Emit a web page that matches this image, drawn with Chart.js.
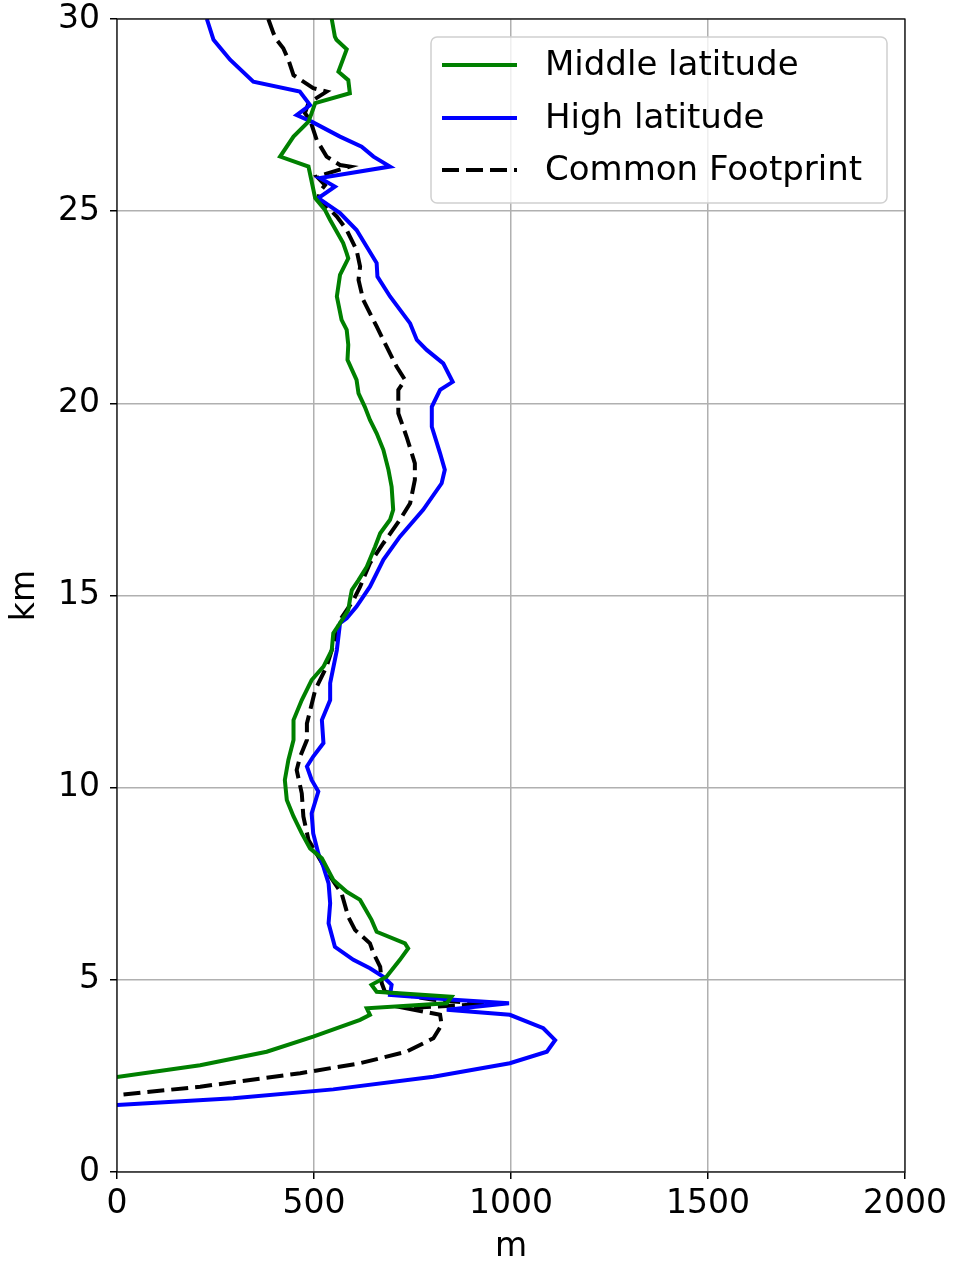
<!DOCTYPE html>
<html>
<head>
<meta charset="utf-8">
<script src="https://cdn.jsdelivr.net/npm/chart.js@4.4.0/dist/chart.umd.min.js"></script>
<style>
  html, body { margin: 0; padding: 0; background: #fff; }
  #wrap { width: 955px; height: 1264px; }
</style>
</head>
<body>
<div id="wrap"><canvas id="profile" width="955" height="1264"></canvas></div>
<script>
// heights in km, values in m (top to bottom)
const midKm = [30.0, 29.54, 29.46, 29.21, 28.63, 28.41, 28.07, 27.81, 27.55, 27.33, 26.94, 26.42, 26.16, 25.34, 25.03, 24.77, 24.17, 23.9, 23.77, 23.34, 22.78, 22.17, 21.91, 21.52, 21.13, 20.61, 20.26, 19.91, 19.57, 19.22, 18.79, 18.27, 17.83, 17.23, 16.97, 16.62, 16.27, 15.75, 15.40, 15.14, 14.88, 14.62, 14.28, 14.02, 13.58, 13.15, 12.80, 12.28, 11.76, 11.24, 10.72, 10.20, 9.68, 9.25, 8.81, 8.42, 8.16, 7.60, 7.29, 7.08, 6.56, 6.25, 5.95, 5.82, 5.52, 5.08, 4.87, 4.69, 4.56, 4.39, 4.26, 4.09, 3.96, 3.52, 3.13, 2.78, 2.47];
const midM = [545, 553, 557, 583, 562, 587, 591, 503, 494, 486, 448, 414, 486, 503, 528, 541, 574, 583, 587, 566, 558, 570, 583, 587, 585, 608, 613, 629, 642, 659, 676, 689, 697, 701, 693, 668, 655, 634, 613, 596, 591, 587, 566, 549, 545, 524, 494, 469, 448, 448, 435, 426, 431, 448, 469, 490, 520, 549, 583, 617, 646, 659, 731, 739, 718, 684, 646, 659, 849, 837, 634, 642, 617, 498, 380, 211, 0];

const highKm = [30.0, 29.46, 28.94, 28.37, 28.11, 27.76, 27.50, 27.33, 26.94, 26.68, 26.42, 26.16, 25.86, 25.64, 25.34, 24.95, 24.51, 23.65, 23.30, 22.78, 22.08, 21.65, 21.39, 21.04, 20.56, 20.35, 19.91, 19.39, 18.70, 18.27, 17.92, 17.23, 16.53, 15.93, 15.23, 14.71, 14.41, 14.28, 13.58, 12.72, 12.28, 11.76, 11.16, 10.81, 10.55, 10.20, 9.90, 9.33, 8.81, 8.29, 7.94, 7.51, 6.99, 6.47, 5.86, 5.52, 5.30, 5.08, 4.87, 4.61, 4.48, 4.39, 4.22, 4.09, 3.74, 3.43, 3.13, 2.83, 2.48, 2.15, 1.92, 1.74];
const highM = [228, 245, 287, 346, 464, 490, 456, 494, 566, 621, 651, 693, 515, 553, 511, 566, 608, 659, 661, 693, 744, 761, 786, 828, 852, 820, 799, 799, 820, 832, 824, 777, 718, 676, 642, 608, 583, 566, 558, 541, 541, 520, 524, 498, 482, 494, 511, 494, 498, 511, 524, 537, 541, 537, 553, 600, 642, 676, 697, 693, 854, 995, 837, 997, 1082, 1112, 1091, 997, 803, 549, 295, 0];

const commonKm = [30.0, 29.63, 29.46, 29.24, 28.94, 28.54, 28.37, 28.20, 28.11, 27.81, 27.55, 27.37, 26.85, 26.42, 26.20, 26.16, 25.90, 25.68, 25.51, 25.34, 24.86, 24.51, 23.99, 23.56, 23.21, 22.69, 22.00, 21.48, 20.95, 20.61, 20.35, 19.74, 19.13, 18.44, 18.01, 17.40, 16.97, 16.36, 15.84, 15.23, 14.88, 14.36, 13.84, 13.15, 12.54, 11.67, 11.24, 10.81, 10.46, 9.85, 9.25, 8.64, 8.20, 7.69, 7.25, 6.64, 6.30, 5.95, 5.69, 5.34, 4.91, 4.69, 4.48, 4.37, 4.32, 4.26, 4.09, 3.83, 3.48, 3.13, 2.83, 2.57, 2.22, 2.00];
const commonM = [384, 397, 405, 422, 435, 448, 473, 498, 532, 486, 477, 490, 507, 532, 566, 591, 507, 528, 515, 511, 558, 583, 608, 617, 613, 625, 659, 684, 710, 731, 714, 714, 735, 756, 756, 744, 718, 676, 642, 617, 600, 566, 553, 532, 503, 482, 482, 465, 456, 469, 473, 486, 511, 541, 570, 587, 604, 642, 651, 668, 672, 680, 803, 934, 837, 735, 820, 824, 803, 735, 617, 465, 211, 0];

const seriesNames = ['Middle latitude', 'High latitude', 'Common Footprint'];

const FONT = "'DejaVu Sans', sans-serif";

function pairs(xs, ys) {
  return xs.map((v, i) => ({ x: v, y: ys[i] }));
}

// matplotlib style box legend in the upper right
const boxLegend = {
  id: 'boxLegend',
  afterDraw(chart) {
    const ctx = chart.ctx;
    ctx.save();
    const x0 = 431, y0 = 37, w = 456, h = 166, r = 6;
    ctx.beginPath();
    ctx.roundRect(x0, y0, w, h, r);
    ctx.fillStyle = 'rgba(255,255,255,0.8)';
    ctx.fill();
    ctx.strokeStyle = '#d0d0d0';
    ctx.lineWidth = 1.5;
    ctx.stroke();
    const rows = [65, 118, 170];
    chart.data.datasets.forEach((ds, i) => {
      ctx.beginPath();
      ctx.strokeStyle = ds.borderColor;
      ctx.lineWidth = ds.borderWidth;
      ctx.setLineDash(ds.borderDash || []);
      ctx.moveTo(442, rows[i]);
      ctx.lineTo(517, rows[i]);
      ctx.stroke();
      ctx.setLineDash([]);
      ctx.fillStyle = '#000';
      ctx.font = '34px ' + FONT;
      ctx.textBaseline = 'middle';
      ctx.fillText(ds.label, 545, rows[i] + 1);
    });
    ctx.restore();
  }
};

// black frame round the plot area
const frame = {
  id: 'frame',
  afterDatasetsDraw(chart) {
    const a = chart.chartArea;
    const ctx = chart.ctx;
    ctx.save();
    ctx.strokeStyle = '#000';
    ctx.lineWidth = 1.2;
    ctx.strokeRect(a.left, a.top, a.right - a.left, a.bottom - a.top);
    ctx.restore();
  }
};

new Chart(document.getElementById('profile'), {
  type: 'scatter',
  data: {
    datasets: [
      { label: seriesNames[0], data: pairs(midM, midKm), borderColor: '#008000', borderWidth: 4, showLine: true, pointRadius: 0, tension: 0 },
      { label: seriesNames[1], data: pairs(highM, highKm), borderColor: '#0000ff', borderWidth: 4, showLine: true, pointRadius: 0, tension: 0 },
      { label: seriesNames[2], data: pairs(commonM, commonKm), borderColor: '#000000', borderWidth: 4, borderDash: [17, 7], showLine: true, pointRadius: 0, tension: 0 }
    ]
  },
  options: {
    responsive: false,
    animation: false,
    layout: { padding: { left: 0, right: 50, top: 19, bottom: 0 } },
    plugins: {
      legend: { display: false },
      tooltip: { enabled: false }
    },
    scales: {
      x: {
        type: 'linear',
        min: 0,
        max: 2000,
        ticks: { stepSize: 500, color: '#000', font: { family: FONT, size: 33 }, padding: 6, maxRotation: 0, callback: v => String(v) },
        grid: { color: '#b0b0b0', lineWidth: 1.5, tickLength: 7, tickColor: '#000', tickWidth: 1.5 },
        border: { display: false },
        title: { display: true, text: 'm', color: '#000', font: { family: FONT, size: 33, lineHeight: 1.0 }, padding: { top: 0, bottom: 0 } },
        afterFit(scale) {
          scale.height = 92;
          scale.paddingLeft = 0;
          scale.paddingRight = 0;
        }
      },
      y: {
        type: 'linear',
        min: 0,
        max: 30,
        ticks: { stepSize: 5, color: '#000', font: { family: FONT, size: 33 }, padding: 10 },
        grid: { color: '#b0b0b0', lineWidth: 1.5, tickLength: 7, tickColor: '#000', tickWidth: 1.5 },
        border: { display: false },
        title: { display: true, text: 'km', color: '#000', font: { family: FONT, size: 33, lineHeight: 1.1 }, padding: { top: 7, bottom: 0 } },
        afterFit(scale) {
          scale.width = 117;
          scale.paddingTop = 0;
          scale.paddingBottom = 0;
        }
      }
    }
  },
  plugins: [frame, boxLegend]
});
</script>
</body>
</html>
